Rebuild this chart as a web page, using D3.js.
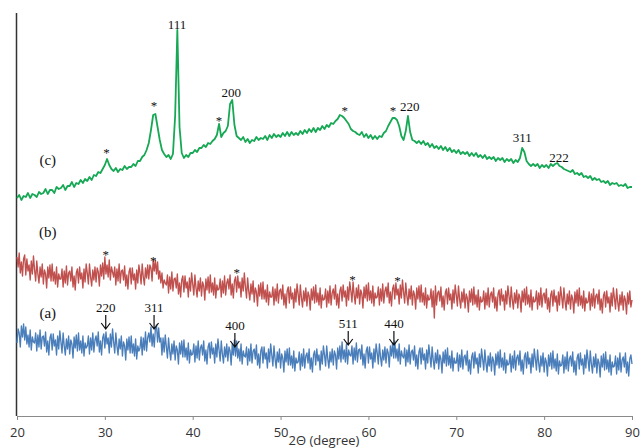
<!DOCTYPE html>
<html>
<head>
<meta charset="utf-8">
<script src="https://cdn.jsdelivr.net/npm/d3@7"></script>
<style>
  body { margin: 0; background: #fff; }
  svg { display: block; }
</style>
</head>
<body>
<svg id="chart" width="643" height="448"></svg>
<script>
// Scan grid: 2-theta from 20 to 90 degrees
// (c) was read off every 0.25 deg, (a) and (b) every 0.125 deg
const thetaStart = 20;
const stepC = 0.25;
const stepAB = 0.125;

// (c) - green trace, one row per degree
const sampleC = [
  218, 221, 216, 220,
  219, 223, 218, 222,
  221, 219, 224, 222,
  223, 227, 222, 226,
  226, 223, 229, 227,
  228, 231, 226, 230,
  230, 234, 229, 233,
  232, 236, 233, 237,
  235, 239, 236, 241,
  240, 244, 243, 247,
  251, 257, 251, 247,
  245, 248, 244, 247,
  246, 250, 247, 249,
  249, 252, 250, 255,
  255, 259, 261, 266,
  273, 286, 301, 302,
  289, 276, 266, 262,
  259, 261, 257, 262,
  300, 386, 289, 263,
  258, 261, 259, 263,
  263, 266, 264, 268,
  268, 271, 269, 273,
  272, 275, 277, 281,
  292, 279, 283, 285,
  290, 312, 316, 291,
  280, 278, 276, 279,
  274, 277, 273, 276,
  275, 279, 276, 278,
  277, 280, 276, 281,
  278, 282, 279, 281,
  279, 283, 280, 284,
  280, 284, 281, 283,
  281, 285, 282, 286,
  283, 287, 284, 288,
  284, 288, 286, 290,
  287, 291, 289, 293,
  292, 295, 297, 301,
  300, 298, 295, 292,
  287, 285, 284, 282,
  281, 284, 279, 282,
  278, 281, 277, 280,
  277, 280, 279, 283,
  285, 290, 294, 298,
  298, 296, 290, 280,
  276, 285, 300, 284,
  276, 275, 273, 275,
  272, 275, 271, 273,
  269, 272, 268, 270,
  267, 270, 266, 269,
  265, 268, 264, 266,
  263, 266, 262, 264,
  262, 264, 260, 263,
  260, 263, 259, 261,
  258, 261, 257, 259,
  257, 259, 255, 258,
  256, 258, 254, 257,
  255, 257, 253, 256,
  254, 258, 268, 264,
  255, 252, 250, 252,
  250, 252, 248, 251,
  249, 251, 248, 252,
  250, 252, 253, 250,
  249, 247, 246, 245,
  244, 246, 242, 243,
  241, 243, 239, 240,
  238, 240, 236, 238,
  236, 237, 234, 235,
  233, 235, 231, 233,
  232, 233, 230, 231,
  230, 232, 228, 229,
  229
];

// (b) - red trace, one row per degree
const sampleB = [
  159, 149, 163, 143, 154, 140, 157, 161,
  141, 157, 145, 151, 136, 155, 142, 160,
  146, 135, 155, 142, 133, 149, 139, 152,
  132, 146, 142, 128, 149, 138, 151, 135,
  152, 135, 144, 132, 149, 129, 142, 137,
  137, 147, 129, 145, 133, 150, 131, 143,
  145, 135, 149, 129, 140, 126, 143, 147,
  133, 149, 137, 143, 128, 147, 134, 152,
  143, 132, 152, 139, 130, 146, 136, 149,
  134, 148, 144, 130, 151, 140, 153, 137,
  159, 142, 151, 139, 156, 136, 149, 144,
  139, 149, 131, 147, 135, 152, 133, 145,
  146, 136, 150, 130, 141, 127, 144, 148,
  132, 148, 136, 142, 127, 146, 133, 151,
  143, 132, 152, 139, 131, 148, 138, 151,
  137, 151, 148, 135, 156, 145, 156, 142,
  154, 137, 145, 133, 143, 128, 136, 133,
  131, 141, 123, 139, 127, 144, 125, 137,
  138, 128, 142, 122, 133, 119, 136, 140,
  124, 140, 128, 134, 119, 138, 125, 143,
  132, 121, 141, 128, 119, 135, 125, 138,
  120, 134, 130, 116, 137, 126, 139, 123,
  141, 124, 133, 121, 138, 118, 131, 126,
  127, 137, 119, 135, 123, 140, 121, 133,
  137, 127, 141, 121, 132, 118, 135, 139,
  124, 140, 128, 134, 119, 138, 125, 143,
  129, 118, 138, 125, 116, 132, 122, 135,
  114, 128, 124, 110, 131, 120, 133, 117,
  134, 117, 126, 114, 131, 111, 124, 119,
  119, 129, 111, 127, 115, 132, 113, 125,
  127, 117, 131, 111, 122, 108, 125, 129,
  113, 129, 117, 123, 108, 127, 114, 132,
  122, 111, 131, 118, 109, 125, 115, 128,
  110, 124, 120, 106, 127, 116, 129, 113,
  131, 114, 123, 111, 128, 108, 121, 116,
  117, 127, 109, 125, 113, 130, 111, 123,
  127, 117, 131, 111, 122, 108, 125, 129,
  115, 131, 119, 125, 110, 129, 116, 134,
  125, 114, 134, 121, 112, 128, 118, 131,
  112, 126, 122, 108, 129, 118, 131, 115,
  133, 116, 125, 113, 130, 110, 123, 118,
  119, 129, 111, 127, 115, 132, 113, 125,
  129, 119, 133, 113, 124, 110, 127, 131,
  117, 133, 121, 127, 112, 131, 118, 136,
  124, 113, 133, 120, 111, 127, 117, 130,
  111, 125, 121, 107, 128, 117, 130, 114,
  131, 114, 123, 111, 128, 108, 121, 116,
  117, 127, 109, 125, 98, 130, 111, 123,
  125, 115, 129, 109, 120, 106, 123, 127,
  112, 128, 116, 122, 107, 126, 113, 131,
  121, 110, 130, 117, 108, 124, 114, 127,
  108, 122, 118, 104, 125, 114, 127, 111,
  129, 112, 121, 109, 126, 106, 119, 114,
  115, 125, 107, 123, 111, 128, 109, 121,
  124, 114, 128, 108, 119, 105, 122, 126,
  111, 127, 115, 121, 106, 125, 112, 130,
  120, 109, 129, 116, 107, 123, 113, 126,
  108, 122, 118, 104, 125, 114, 127, 111,
  129, 112, 121, 109, 126, 106, 119, 114,
  115, 125, 107, 123, 111, 128, 109, 121,
  123, 113, 127, 107, 118, 104, 121, 125,
  110, 126, 114, 120, 105, 124, 111, 129,
  119, 108, 128, 115, 106, 122, 112, 125,
  107, 121, 117, 103, 124, 113, 126, 110,
  128, 111, 120, 108, 125, 105, 118, 113,
  114, 124, 106, 122, 110, 127, 108, 120,
  122, 112, 126, 106, 117, 103, 120, 124,
  109, 125, 113, 119, 104, 123, 110, 128,
  118, 107, 127, 114, 105, 121, 111, 124,
  106, 120, 116, 102, 123, 112, 125, 109,
  116
];

// (a) - blue trace, one row per degree
const sampleA = [
  73, 87, 83, 69, 90, 79, 92, 76,
  89, 72, 81, 69, 86, 66, 79, 74,
  73, 83, 65, 81, 69, 86, 67, 79,
  80, 70, 84, 64, 75, 61, 78, 82,
  66, 82, 70, 76, 61, 80, 67, 85,
  74, 63, 83, 70, 61, 77, 67, 80,
  62, 76, 72, 58, 79, 68, 81, 65,
  83, 66, 75, 63, 80, 60, 73, 68,
  70, 80, 62, 78, 66, 83, 64, 76,
  80, 70, 84, 64, 75, 61, 78, 82,
  68, 84, 72, 78, 63, 82, 69, 87,
  74, 63, 83, 70, 61, 77, 67, 80,
  60, 74, 70, 56, 77, 66, 79, 63,
  80, 63, 72, 60, 77, 57, 70, 65,
  68, 79, 61, 78, 66, 84, 65, 78,
  83, 74, 89, 70, 82, 69, 87, 91,
  74, 88, 74, 78, 61, 78, 64, 81,
  69, 58, 78, 65, 56, 72, 62, 75,
  56, 70, 66, 52, 73, 62, 75, 59,
  76, 59, 68, 56, 73, 53, 66, 61,
  62, 72, 54, 70, 58, 75, 56, 68,
  71, 61, 75, 55, 66, 52, 69, 73,
  58, 74, 62, 68, 53, 72, 59, 77,
  66, 55, 75, 62, 53, 69, 59, 72,
  55, 69, 65, 51, 72, 61, 76, 60,
  75, 58, 67, 55, 72, 52, 65, 60,
  59, 69, 51, 67, 55, 72, 53, 65,
  67, 57, 71, 51, 62, 48, 65, 69,
  53, 69, 57, 63, 48, 67, 54, 72,
  61, 50, 70, 57, 48, 64, 54, 67,
  48, 62, 58, 44, 65, 54, 67, 51,
  68, 51, 60, 48, 65, 45, 58, 53,
  54, 64, 46, 62, 50, 67, 48, 60,
  63, 53, 67, 47, 58, 44, 61, 65,
  51, 67, 55, 61, 46, 65, 52, 70,
  61, 50, 70, 57, 48, 64, 54, 67,
  51, 65, 61, 47, 68, 57, 70, 54,
  74, 57, 66, 54, 72, 52, 66, 61,
  60, 70, 52, 68, 56, 73, 54, 66,
  67, 57, 71, 51, 62, 48, 65, 69,
  53, 69, 57, 63, 48, 67, 54, 72,
  63, 52, 72, 59, 50, 66, 56, 69,
  53, 67, 63, 49, 70, 60, 73, 58,
  75, 58, 67, 55, 72, 52, 65, 60,
  58, 68, 50, 66, 54, 71, 52, 64,
  66, 56, 70, 50, 61, 47, 64, 68,
  52, 68, 56, 62, 47, 66, 53, 71,
  60, 49, 69, 56, 47, 63, 53, 66,
  47, 61, 57, 43, 64, 53, 66, 50,
  68, 51, 60, 48, 65, 45, 58, 53,
  53, 63, 45, 61, 49, 66, 47, 59,
  61, 51, 65, 45, 56, 42, 59, 63,
  48, 64, 52, 58, 43, 62, 49, 67,
  57, 46, 66, 53, 44, 60, 50, 63,
  45, 59, 55, 41, 62, 51, 64, 48,
  66, 49, 58, 46, 63, 43, 56, 51,
  52, 62, 44, 60, 48, 65, 46, 58,
  61, 51, 65, 45, 56, 42, 59, 63,
  48, 64, 52, 58, 43, 62, 49, 67,
  57, 46, 66, 53, 44, 60, 50, 63,
  44, 58, 54, 40, 61, 50, 63, 47,
  65, 48, 57, 45, 62, 42, 55, 50,
  51, 61, 43, 59, 47, 64, 45, 57,
  60, 50, 64, 44, 55, 41, 58, 62,
  47, 63, 51, 57, 42, 61, 48, 66,
  56, 45, 65, 52, 43, 59, 49, 62,
  43, 57, 53, 39, 60, 49, 62, 46,
  64, 47, 56, 44, 61, 41, 54, 49,
  50, 60, 42, 58, 46, 63, 44, 56,
  59, 49, 63, 43, 54, 40, 57, 61,
  52
];

const xTicks = [20, 30, 40, 50, 60, 70, 80, 90];

// sample names and the level they sit at
const seriesNames = ['(c)', '(b)', '(a)'];
const seriesNameAt = [256, 184, 103];

// reflection labels (hkl) for (c)
const hklC = ['111', '200', '220', '311', '222'];
const hklCTheta = [38.2, 44.4, 64.7, 77.5, 81.7];
const hklCLevel = [392, 324, 310, 279, 259];

// unknown phase marks (*)
const starCTheta = [30.2, 35.6, 43.0, 57.3, 62.8];
const starCLevel = [266, 313, 298, 308, 308];
const starBTheta = [30.1, 35.5, 45.0, 58.2, 63.3];
const starBLevel = [164, 158, 146, 139, 138];

// spinel reflections marked with arrows on (a)
const hklA = ['220', '311', '400', '511', '440'];
const hklATheta = [30.1, 35.6, 44.8, 57.7, 62.9];
const hklALevel = [109, 109, 91, 93, 93];

const svg = d3.select('#chart');

const x = d3.scaleLinear().domain([20, 90]).range([17, 632]);
const y = d3.scaleLinear().domain([0, 402]).range([416, 14]);

// x axis
const xAxis = d3.axisBottom(x)
  .tickValues(xTicks)
  .tickSize(4)
  .tickPadding(8)
  .tickFormat(d3.format('d'));

const gx = svg.append('g')
  .attr('transform', 'translate(0,416)')
  .call(xAxis);
gx.select('.domain').attr('stroke', '#8a8a8a');
gx.selectAll('.tick line').attr('stroke', '#8a8a8a');
gx.selectAll('.tick text')
  .attr('fill', '#333')
  .style('font-family', '"Open Sans", sans-serif')
  .style('font-size', '13px');

// y axis - only the line, no ticks
svg.append('line')
  .attr('x1', 16.5).attr('x2', 16.5)
  .attr('y1', 13).attr('y2', 416)
  .attr('stroke', '#333')
  .attr('stroke-width', 1.5);

// axis title sits low, squeezed under the tick labels like the original
svg.append('text')
  .attr('x', 324)
  .attr('y', 445)
  .attr('text-anchor', 'middle')
  .attr('fill', '#333')
  .style('font-family', '"Open Sans", sans-serif')
  .style('font-size', '13px')
  .text('2\u0398 (degree)');

// traces
const traces = [
  { values: sampleA, step: stepAB, color: '#4a7ebb', width: 1.35 },
  { values: sampleB, step: stepAB, color: '#c0504d', width: 1.35 },
  { values: sampleC, step: stepC, color: '#16a854', width: 1.8 }
];

svg.selectAll('path.trace')
  .data(traces)
  .enter()
  .append('path')
  .attr('class', 'trace')
  .attr('d', t => d3.line()
    .x((d, i) => x(thetaStart + i * t.step))
    .y(d => y(d))(t.values))
  .attr('fill', 'none')
  .attr('stroke', t => t.color)
  .attr('stroke-width', t => t.width)
  .attr('stroke-linejoin', 'round');

const serif = '"Liberation Serif", "Times New Roman", serif';

// sample names
svg.selectAll('text.name')
  .data(seriesNames)
  .enter()
  .append('text')
  .attr('class', 'name')
  .attr('x', x(23.5))
  .attr('y', (d, i) => y(seriesNameAt[i]))
  .attr('dy', '0.35em')
  .attr('text-anchor', 'middle')
  .attr('fill', '#111')
  .style('font-family', serif)
  .style('font-size', '15px')
  .text(d => d);

// hkl labels on (c)
svg.selectAll('text.hklc')
  .data(hklC)
  .enter()
  .append('text')
  .attr('class', 'hklc')
  .attr('x', (d, i) => x(hklCTheta[i]))
  .attr('y', (d, i) => y(hklCLevel[i]))
  .attr('dy', '0.35em')
  .attr('text-anchor', 'middle')
  .attr('fill', '#111')
  .style('font-family', serif)
  .style('font-size', '13px')
  .text(d => d);

// stars
const stars = starCTheta.map((t, i) => [t, starCLevel[i]])
  .concat(starBTheta.map((t, i) => [t, starBLevel[i]]));

svg.selectAll('text.star')
  .data(stars)
  .enter()
  .append('text')
  .attr('class', 'star')
  .attr('x', d => x(d[0]))
  .attr('y', d => y(d[1]))
  .attr('dy', '0.55em')
  .attr('text-anchor', 'middle')
  .attr('fill', '#111')
  .style('font-family', serif)
  .style('font-size', '13px')
  .text('*');

// arrows with labels on (a)
const arrows = svg.selectAll('g.arrow')
  .data(hklA)
  .enter()
  .append('g')
  .attr('class', 'arrow')
  .attr('transform', (d, i) => 'translate(' + x(hklATheta[i]) + ',' + y(hklALevel[i]) + ')');

arrows.append('text')
  .attr('dy', '0.35em')
  .attr('text-anchor', 'middle')
  .attr('fill', '#111')
  .style('font-family', serif)
  .style('font-size', '13px')
  .text(d => d);

arrows.append('path')
  .attr('d', 'M0,8 L0,22 M-4.5,16 L0,22 L4.5,16')
  .attr('fill', 'none')
  .attr('stroke', '#111')
  .attr('stroke-width', 1.2);
</script>
</body>
</html>
